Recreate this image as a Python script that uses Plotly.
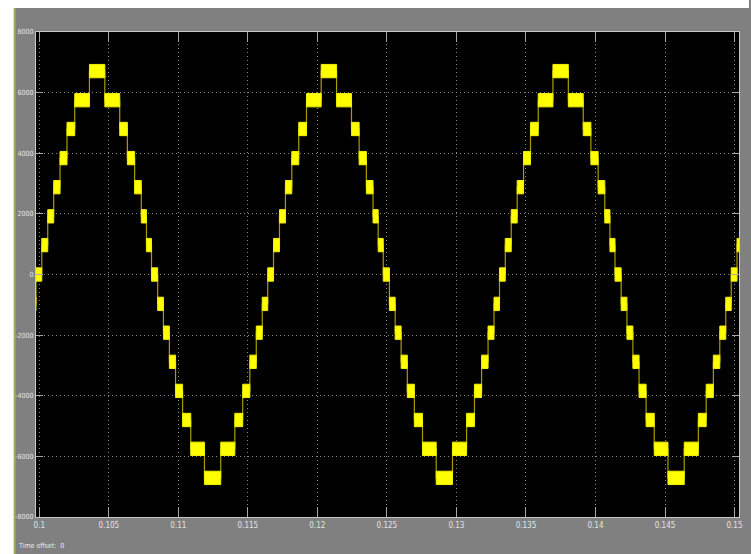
import plotly.graph_objects as go

# Step heights of the 15-level inverter output (V)
level_volts = [0, 970, 1920, 2880, 3840, 4800, 5750, 6710]
# Level index reached after each switching instant within one cycle
level_after_switch = [1, 2, 3, 4, 5, 6, 7, 6, 5, 4, 3, 2, 1, 0,
                      -1, -2, -3, -4, -5, -6, -7, -6, -5, -4, -3, -2, -1, 0]
# Switching instants within one cycle (ms after the rising zero crossing)
switch_ms = [0.179, 0.607, 1.036, 1.493, 1.993, 2.550, 3.607, 4.714, 5.786,
             6.336, 6.857, 7.336, 7.707, 8.071, 8.514, 8.929, 9.357, 9.800,
             10.307, 10.893, 11.879, 13.050, 14.064, 14.629, 15.143, 15.607,
             16.036, 16.429]
# Rising zero crossings of the 60 Hz fundamental (s)
cycle_starts = [0.083334, 0.1, 0.116667, 0.133334, 0.15]
# Half-height of the PWM ripple band on each plateau (V)
ripple_band = 220

x_ticks = [0.1, 0.105, 0.11, 0.115, 0.12, 0.125, 0.13, 0.135, 0.14, 0.145, 0.15]
x_tick_text = ["0.1", "0.105", "0.11", "0.115", "0.12", "0.125", "0.13",
               "0.135", "0.14", "0.145", "0.15"]
y_ticks = [-8000, -6000, -4000, -2000, 0, 2000, 4000, 6000, 8000]
y_tick_text = ["-8000", "-6000", "-4000", "-2000", "0", "2000", "4000", "6000", "8000"]


def volts(idx):
    return level_volts[abs(idx)] * (1 if idx >= 0 else -1)


# staircase points (start of each plateau)
t_pts = [cycle_starts[0] - 0.0005]
v_pts = [volts(-1)]
for c in cycle_starts:
    for ms, idx in zip(switch_ms, level_after_switch):
        t_pts.append(c + ms / 1000.0)
        v_pts.append(volts(idx))

# ripple bands: one filled box per plateau
bx, by = [], []
for i in range(len(t_pts) - 1):
    t0, t1, v = t_pts[i], t_pts[i + 1], v_pts[i]
    bx += [t0, t1, t1, t0, t0, None]
    by += [v - ripple_band, v - ripple_band, v + ripple_band, v + ripple_band,
           v - ripple_band, None]

fig = go.Figure()
fig.add_trace(go.Scatter(
    x=t_pts, y=v_pts, mode="lines", line=dict(color="#a89c00", width=1.2, shape="hv"),
    hoverinfo="skip", showlegend=False))
fig.add_trace(go.Scatter(
    x=bx, y=by, mode="lines", fill="toself", fillcolor="#ffff00",
    line=dict(color="#f2f000", width=1), hoverinfo="skip", showlegend=False))

W, H = 751, 554
ML, MR, MT, MB = 36, 8, 32, 37
PW, PH = W - ML - MR, H - MT - MB


def px(x):
    return (x - ML) / PW


def py(y):
    return (H - MB - y) / PH


font_axis = "Liberation Sans Narrow, DejaVu Sans Condensed, Arial Narrow, sans-serif"

shapes = [
    # white surround on the left and top
    dict(type="rect", xref="paper", yref="paper", x0=px(-2), x1=px(14), y0=py(H + 2), y1=py(-2),
         fillcolor="white", line=dict(width=0), layer="below"),
    dict(type="rect", xref="paper", yref="paper", x0=px(-2), x1=px(W + 2), y0=py(8), y1=py(-2),
         fillcolor="white", line=dict(width=0), layer="below"),
    # olive edge of the scope panel
    dict(type="rect", xref="paper", yref="paper", x0=px(13.5), x1=px(15.5), y0=py(H + 2), y1=py(8),
         fillcolor="#a7a95c", line=dict(width=0), layer="below"),
]

fig.update_layout(
    width=W, height=H,
    margin=dict(l=ML, r=MR, t=MT, b=MB, pad=0),
    paper_bgcolor="#808080",
    plot_bgcolor="black",
    shapes=shapes,
    showlegend=False,
    xaxis=dict(
        range=[0.099764, 0.150322],
        tickmode="array", tickvals=x_ticks, ticktext=x_tick_text,
        showgrid=True, gridcolor="#8a8a8a", griddash="1px,3px", gridwidth=1,
        zeroline=False,
        showline=True, linecolor="#c8c8c8", linewidth=1, mirror="ticks",
        ticks="inside", ticklen=10, tickcolor="#a8a8a8", tickwidth=1,
        tickfont=dict(family=font_axis, size=8, color="#e4e4e4"),
    ),
    yaxis=dict(
        range=[-8000, 8000],
        tickmode="array", tickvals=y_ticks, ticktext=y_tick_text,
        showgrid=True, gridcolor="#8a8a8a", griddash="1px,3px", gridwidth=1,
        zeroline=False,
        showline=True, linecolor="#c8c8c8", linewidth=1, mirror="ticks",
        ticks="inside", ticklen=7, tickcolor="#a8a8a8", tickwidth=1,
        tickfont=dict(family=font_axis, size=7, color="#e4e4e4"),
    ),
    annotations=[
        dict(text="Time offset:&nbsp;&nbsp;0", xref="paper", yref="paper",
             x=px(16), y=py(546), xanchor="left", yanchor="middle", showarrow=False,
             font=dict(family=font_axis, size=7, color="#e8e8e8")),
    ],
)

fig.write_html("out.html")
